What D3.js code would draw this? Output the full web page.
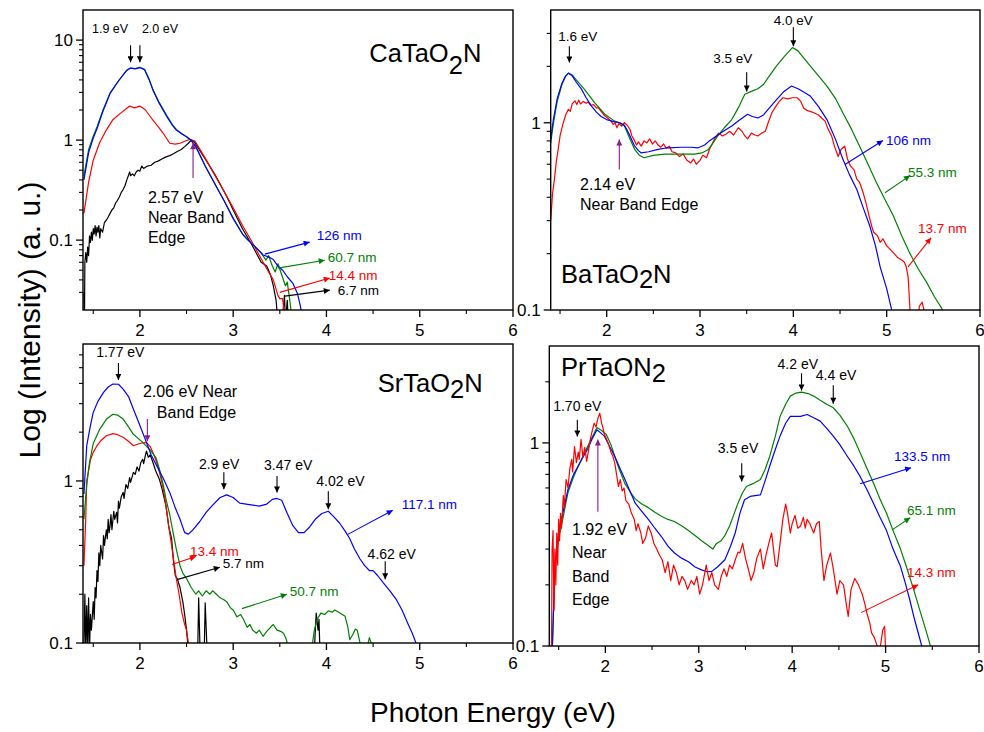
<!DOCTYPE html>
<html>
<head>
<meta charset="utf-8">
<script src="https://cdn.jsdelivr.net/npm/d3@7"></script>
<style>
body { margin: 0; background: #fff; }
text { font-family: "Liberation Sans", Arial, sans-serif; }
</style>
</head>
<body>
<script>
// ------------------------------------------------ Data ------------------------------------------------ //
// each series: [photon energy (eV), intensity (a.u.)]
var caBlue = [[1.4,0.40],[1.45,0.75],[1.5,1.05],[1.54,1.3],[1.6,1.9],[1.68,2.93],[1.77,3.9],[1.86,5.0],[1.9,5.25],[1.95,5.15],[2.0,5.3],[2.05,5.05],[2.1,4.0],[2.14,3.16],[2.2,2.4],[2.29,1.71],[2.35,1.4],[2.39,1.26],[2.45,1.15],[2.5,1.08],[2.55,0.99],[2.6,0.86],[2.7,0.55],[2.8,0.37],[2.9,0.25],[3.0,0.165],[3.1,0.115],[3.16,0.1],[3.24,0.085],[3.32,0.071],[3.38,0.068],[3.43,0.064],[3.48,0.055],[3.53,0.05],[3.58,0.043],[3.64,0.037],[3.69,0.029],[3.72,0.022],[3.74,0.017],[3.77,0.015],[3.8,0.019],[3.82,0.015]];
var caGreen = [[1.4,0.44],[1.45,0.8],[1.5,1.1],[1.54,1.35],[1.6,1.95],[1.68,2.95],[1.77,3.9],[1.86,5.0],[1.9,5.25],[1.95,5.2],[2.0,5.35],[2.05,5.1],[2.1,4.05],[2.14,3.2],[2.2,2.45],[2.29,1.75],[2.35,1.42],[2.39,1.28],[2.45,1.16],[2.5,1.08],[2.55,0.99],[2.6,0.86],[2.7,0.55],[2.8,0.37],[2.9,0.25],[3.0,0.165],[3.1,0.115],[3.16,0.1],[3.24,0.085],[3.3,0.075],[3.35,0.063],[3.38,0.07],[3.42,0.055],[3.45,0.048],[3.48,0.058],[3.52,0.045],[3.56,0.035],[3.58,0.038],[3.6,0.028],[3.62,0.02],[3.63,0.015]];
var caRed = [[1.4,0.185],[1.45,0.38],[1.5,0.63],[1.57,0.95],[1.64,1.26],[1.71,1.6],[1.79,1.85],[1.85,2.05],[1.89,2.19],[1.94,2.1],[2.0,2.19],[2.06,2.0],[2.14,1.58],[2.2,1.35],[2.25,1.17],[2.32,0.93],[2.38,0.91],[2.43,0.93],[2.5,0.99],[2.54,1.02],[2.59,0.98],[2.7,0.66],[2.8,0.45],[2.9,0.31],[3.0,0.21],[3.1,0.14],[3.21,0.093],[3.3,0.065],[3.38,0.048],[3.43,0.04],[3.48,0.028],[3.5,0.026],[3.53,0.026],[3.55,0.018],[3.57,0.014]];
var caBlack = [[1.4,0.03],[1.405,0.012],[1.41,0.06],[1.42,0.075],[1.43,0.06],[1.44,0.085],[1.45,0.07],[1.46,0.11],[1.47,0.095],[1.48,0.12],[1.49,0.1],[1.5,0.13],[1.51,0.115],[1.52,0.14],[1.53,0.11],[1.54,0.135],[1.55,0.12],[1.56,0.14],[1.57,0.105],[1.58,0.13],[1.6,0.12],[1.62,0.15],[1.64,0.158],[1.66,0.17],[1.68,0.185],[1.7,0.2],[1.72,0.21],[1.74,0.235],[1.76,0.25],[1.78,0.27],[1.8,0.3],[1.82,0.32],[1.84,0.35],[1.86,0.4],[1.88,0.45],[1.89,0.48],[1.9,0.44],[1.92,0.46],[1.94,0.44],[1.96,0.48],[1.98,0.5],[2.0,0.49],[2.02,0.55],[2.04,0.52],[2.08,0.55],[2.12,0.56],[2.16,0.6],[2.2,0.62],[2.24,0.65],[2.28,0.68],[2.32,0.7],[2.36,0.73],[2.4,0.77],[2.44,0.8],[2.48,0.86],[2.52,0.93],[2.55,1.0],[2.58,0.97],[2.7,0.65],[2.8,0.46],[2.9,0.31],[2.96,0.24],[3.0,0.2],[3.1,0.13],[3.2,0.09],[3.3,0.06],[3.36,0.055],[3.4,0.045],[3.43,0.035],[3.46,0.025],[3.48,0.015],[3.5,0.01],[3.54,0.022],[3.55,0.028],[3.56,0.015],[3.58,0.025],[3.6,0.01]];

var baBlue = [[1.4,0.82],[1.43,1.05],[1.47,1.35],[1.52,1.62],[1.56,1.78],[1.59,1.84],[1.63,1.78],[1.68,1.63],[1.73,1.51],[1.78,1.36],[1.835,1.23],[1.89,1.14],[1.94,1.08],[2.0,1.04],[2.086,1.01],[2.14,1.0],[2.19,0.97],[2.24,0.87],[2.3,0.75],[2.34,0.71],[2.37,0.69],[2.45,0.7],[2.55,0.72],[2.65,0.735],[2.8,0.74],[2.9,0.74],[2.98,0.735],[3.05,0.76],[3.1,0.8],[3.16,0.84],[3.25,0.9],[3.34,0.96],[3.42,1.03],[3.51,1.11],[3.56,1.08],[3.62,1.06],[3.68,1.1],[3.73,1.18],[3.82,1.33],[3.9,1.47],[3.98,1.57],[4.05,1.52],[4.12,1.45],[4.18,1.39],[4.27,1.22],[4.36,1.04],[4.45,0.82],[4.53,0.64],[4.6,0.53],[4.68,0.44],[4.75,0.35],[4.82,0.28],[4.88,0.22],[4.93,0.17],[5.0,0.13],[5.05,0.102],[5.07,0.09]];
var baGreen = [[1.4,0.78],[1.43,1.0],[1.47,1.3],[1.52,1.6],[1.56,1.77],[1.59,1.84],[1.63,1.8],[1.68,1.68],[1.76,1.51],[1.87,1.28],[1.98,1.11],[2.086,1.02],[2.14,1.0],[2.19,0.96],[2.24,0.84],[2.3,0.72],[2.35,0.67],[2.4,0.65],[2.5,0.67],[2.62,0.68],[2.8,0.68],[2.94,0.68],[3.02,0.69],[3.09,0.72],[3.14,0.78],[3.19,0.85],[3.26,0.94],[3.34,1.04],[3.41,1.2],[3.48,1.42],[3.55,1.47],[3.62,1.52],[3.68,1.6],[3.73,1.74],[3.82,2.01],[3.9,2.25],[3.99,2.52],[4.05,2.42],[4.18,2.01],[4.27,1.78],[4.36,1.57],[4.45,1.35],[4.53,1.13],[4.62,0.93],[4.71,0.75],[4.8,0.6],[4.89,0.48],[4.98,0.39],[5.07,0.32],[5.16,0.25],[5.25,0.2],[5.34,0.165],[5.43,0.14],[5.51,0.118],[5.59,0.102],[5.62,0.095]];
var baRed = [[1.4,0.3],[1.42,0.42],[1.44,0.5],[1.46,0.62],[1.48,0.72],[1.5,0.85],[1.53,0.98],[1.56,1.1],[1.59,1.18],[1.61,1.15],[1.63,1.26],[1.66,1.31],[1.68,1.25],[1.7,1.32],[1.72,1.26],[1.75,1.3],[1.78,1.27],[1.8,1.29],[1.83,1.24],[1.86,1.25],[1.89,1.2],[1.91,1.2],[1.94,1.15],[1.97,1.1],[2.01,1.06],[2.04,1.03],[2.07,0.98],[2.09,1.0],[2.11,0.94],[2.13,0.99],[2.16,0.96],[2.19,1.0],[2.22,0.97],[2.25,0.92],[2.27,0.85],[2.3,0.8],[2.32,0.76],[2.34,0.79],[2.37,0.75],[2.4,0.8],[2.43,0.78],[2.46,0.82],[2.49,0.77],[2.52,0.8],[2.55,0.76],[2.58,0.74],[2.61,0.77],[2.64,0.73],[2.67,0.75],[2.7,0.7],[2.74,0.69],[2.78,0.66],[2.82,0.68],[2.86,0.63],[2.9,0.61],[2.93,0.64],[2.96,0.6],[3.0,0.63],[3.03,0.67],[3.07,0.65],[3.1,0.72],[3.13,0.77],[3.16,0.83],[3.2,0.88],[3.24,0.85],[3.28,0.87],[3.32,0.9],[3.36,0.86],[3.41,0.94],[3.45,0.9],[3.48,0.85],[3.51,0.82],[3.55,0.88],[3.59,0.86],[3.62,0.85],[3.66,0.88],[3.7,0.9],[3.73,1.0],[3.77,1.13],[3.81,1.22],[3.85,1.3],[3.89,1.36],[3.94,1.34],[3.99,1.36],[4.04,1.36],[4.08,1.3],[4.11,1.2],[4.15,1.16],[4.18,1.15],[4.22,1.13],[4.27,1.1],[4.31,1.05],[4.34,1.02],[4.37,0.93],[4.41,0.85],[4.44,0.75],[4.48,0.66],[4.51,0.72],[4.55,0.75],[4.58,0.64],[4.61,0.59],[4.65,0.56],[4.68,0.5],[4.71,0.48],[4.75,0.42],[4.78,0.37],[4.81,0.32],[4.84,0.28],[4.86,0.26],[4.9,0.25],[4.93,0.23],[4.96,0.24],[5.0,0.22],[5.04,0.21],[5.08,0.2],[5.12,0.19],[5.16,0.185],[5.19,0.18],[5.21,0.17],[5.23,0.15],[5.25,0.1],[5.27,0.08],[5.33,0.08],[5.35,0.105],[5.38,0.11],[5.4,0.1],[5.42,0.08]];

var srBlue = [[1.4,0.83],[1.43,1.65],[1.47,2.2],[1.5,2.65],[1.55,3.1],[1.61,3.52],[1.66,3.8],[1.71,3.96],[1.77,3.95],[1.82,3.69],[1.88,3.3],[1.93,2.78],[2.0,2.2],[2.07,1.73],[2.12,1.45],[2.18,1.24],[2.25,1.04],[2.32,0.85],[2.38,0.68],[2.43,0.58],[2.48,0.48],[2.52,0.47],[2.57,0.5],[2.64,0.56],[2.71,0.64],[2.78,0.71],[2.86,0.79],[2.93,0.82],[3.0,0.79],[3.07,0.73],[3.14,0.72],[3.21,0.71],[3.28,0.7],[3.36,0.72],[3.42,0.77],[3.47,0.78],[3.52,0.76],[3.58,0.63],[3.64,0.53],[3.7,0.48],[3.76,0.48],[3.82,0.52],[3.88,0.58],[3.95,0.63],[4.02,0.65],[4.08,0.6],[4.14,0.55],[4.2,0.49],[4.25,0.44],[4.3,0.38],[4.36,0.33],[4.41,0.3],[4.46,0.28],[4.5,0.28],[4.55,0.26],[4.61,0.235],[4.68,0.21],[4.75,0.185],[4.81,0.16],[4.87,0.133],[4.92,0.115],[4.96,0.1],[4.99,0.095]];
var srGreen = [[1.4,0.58],[1.43,0.95],[1.46,1.3],[1.5,1.7],[1.57,2.09],[1.64,2.4],[1.71,2.58],[1.76,2.55],[1.82,2.41],[1.88,2.15],[1.93,1.94],[2.03,1.73],[2.12,1.53],[2.17,1.4],[2.21,1.18],[2.25,0.95],[2.28,0.77],[2.32,0.62],[2.35,0.5],[2.39,0.38],[2.43,0.3],[2.46,0.27],[2.5,0.25],[2.55,0.22],[2.6,0.2],[2.63,0.21],[2.67,0.195],[2.71,0.21],[2.75,0.2],[2.78,0.21],[2.82,0.2],[2.86,0.19],[2.9,0.185],[2.93,0.18],[2.97,0.165],[3.0,0.16],[3.04,0.145],[3.08,0.15],[3.11,0.14],[3.15,0.125],[3.18,0.13],[3.21,0.12],[3.25,0.115],[3.28,0.12],[3.32,0.11],[3.36,0.118],[3.4,0.125],[3.43,0.13],[3.47,0.12],[3.51,0.118],[3.54,0.115],[3.57,0.105],[3.6,0.09],[3.84,0.09],[3.87,0.12],[3.9,0.14],[3.94,0.153],[3.98,0.15],[4.02,0.158],[4.06,0.155],[4.09,0.16],[4.13,0.155],[4.17,0.15],[4.2,0.146],[4.23,0.125],[4.25,0.105],[4.28,0.112],[4.31,0.122],[4.33,0.12],[4.36,0.1],[4.38,0.09],[4.43,0.09],[4.46,0.108],[4.48,0.1],[4.5,0.09]];
var srRed = [[1.4,0.3],[1.42,0.6],[1.43,1.0],[1.47,1.35],[1.5,1.5],[1.54,1.65],[1.58,1.77],[1.64,1.9],[1.71,1.96],[1.76,1.93],[1.82,1.86],[1.88,1.75],[1.93,1.65],[1.98,1.69],[2.03,1.72],[2.07,1.73],[2.11,1.63],[2.14,1.5],[2.18,1.3],[2.21,1.13],[2.25,0.9],[2.28,0.7],[2.31,0.52],[2.34,0.4],[2.37,0.3],[2.39,0.25],[2.42,0.2],[2.45,0.154],[2.48,0.13],[2.5,0.12],[2.52,0.1],[2.54,0.09]];
var srBlack = [[1.4,0.09],[1.41,0.2],[1.42,0.09],[1.43,0.17],[1.44,0.09],[1.45,0.19],[1.46,0.09],[1.47,0.15],[1.48,0.12],[1.5,0.18],[1.51,0.14],[1.52,0.22],[1.53,0.19],[1.54,0.28],[1.55,0.24],[1.56,0.36],[1.57,0.3],[1.58,0.4],[1.6,0.33],[1.61,0.46],[1.62,0.4],[1.64,0.5],[1.65,0.44],[1.66,0.58],[1.67,0.48],[1.68,0.53],[1.69,0.62],[1.7,0.5],[1.72,0.65],[1.73,0.58],[1.75,0.64],[1.76,0.55],[1.77,0.75],[1.78,0.68],[1.8,0.8],[1.82,0.85],[1.83,0.78],[1.85,0.95],[1.87,0.9],[1.89,1.05],[1.9,0.98],[1.93,1.13],[1.95,1.1],[1.97,1.22],[1.99,1.15],[2.01,1.3],[2.03,1.36],[2.04,1.28],[2.06,1.45],[2.07,1.53],[2.09,1.4],[2.11,1.45],[2.14,1.3],[2.17,1.15],[2.21,1.02],[2.24,0.88],[2.28,0.7],[2.31,0.52],[2.34,0.44],[2.36,0.32],[2.38,0.26],[2.4,0.25],[2.43,0.22],[2.46,0.18],[2.48,0.15],[2.5,0.12],[2.52,0.09],[2.62,0.09],[2.63,0.19],[2.645,0.09],[2.69,0.09],[2.7,0.177],[2.72,0.09],[3.87,0.09],[3.89,0.153],[3.91,0.12],[3.92,0.14],[3.93,0.09]];

var prBlue = [[1.43,0.09],[1.46,0.25],[1.5,0.36],[1.53,0.42],[1.6,0.59],[1.66,0.7],[1.71,0.77],[1.76,0.85],[1.81,0.93],[1.86,1.05],[1.91,1.16],[1.95,1.12],[1.99,1.08],[2.04,0.97],[2.1,0.86],[2.15,0.76],[2.21,0.66],[2.27,0.57],[2.32,0.505],[2.39,0.46],[2.46,0.42],[2.53,0.38],[2.6,0.346],[2.67,0.31],[2.74,0.287],[2.82,0.27],[2.89,0.26],[2.96,0.245],[3.03,0.237],[3.09,0.232],[3.14,0.233],[3.2,0.245],[3.28,0.266],[3.34,0.31],[3.39,0.36],[3.44,0.45],[3.49,0.525],[3.55,0.545],[3.6,0.55],[3.66,0.555],[3.71,0.65],[3.76,0.77],[3.82,0.93],[3.87,1.08],[3.93,1.25],[3.98,1.35],[4.04,1.35],[4.09,1.35],[4.16,1.38],[4.23,1.33],[4.3,1.28],[4.37,1.18],[4.44,1.08],[4.51,0.98],[4.59,0.86],[4.66,0.77],[4.73,0.68],[4.8,0.59],[4.87,0.505],[4.94,0.43],[5.01,0.37],[5.08,0.3],[5.16,0.246],[5.21,0.205],[5.26,0.168],[5.31,0.135],[5.37,0.107],[5.4,0.095]];
var prGreen = [[1.43,0.09],[1.46,0.24],[1.5,0.34],[1.53,0.39],[1.6,0.57],[1.66,0.68],[1.71,0.77],[1.76,0.86],[1.81,0.96],[1.86,1.07],[1.91,1.19],[1.96,1.15],[2.01,1.1],[2.06,0.98],[2.1,0.86],[2.15,0.74],[2.21,0.63],[2.27,0.57],[2.32,0.53],[2.39,0.5],[2.46,0.48],[2.53,0.455],[2.6,0.435],[2.67,0.42],[2.74,0.41],[2.82,0.39],[2.89,0.37],[2.96,0.35],[3.03,0.33],[3.09,0.315],[3.15,0.3],[3.19,0.32],[3.24,0.33],[3.28,0.35],[3.33,0.39],[3.38,0.45],[3.42,0.505],[3.47,0.57],[3.51,0.61],[3.58,0.63],[3.66,0.66],[3.71,0.74],[3.76,0.86],[3.82,1.08],[3.87,1.35],[3.93,1.55],[3.98,1.7],[4.04,1.76],[4.1,1.78],[4.17,1.75],[4.23,1.7],[4.3,1.62],[4.37,1.55],[4.44,1.49],[4.51,1.37],[4.59,1.21],[4.66,1.05],[4.73,0.89],[4.8,0.75],[4.87,0.635],[4.94,0.53],[5.01,0.45],[5.08,0.37],[5.16,0.3],[5.23,0.24],[5.3,0.19],[5.37,0.148],[5.44,0.116],[5.48,0.1],[5.5,0.09]];
var prRed = [[1.42,0.05],[1.43,0.3],[1.44,0.37],[1.45,0.15],[1.46,0.3],[1.47,0.2],[1.48,0.36],[1.49,0.25],[1.5,0.42],[1.51,0.33],[1.52,0.45],[1.53,0.38],[1.55,0.55],[1.56,0.48],[1.58,0.66],[1.6,0.6],[1.62,0.75],[1.64,0.83],[1.65,0.72],[1.67,0.96],[1.69,0.8],[1.71,0.9],[1.72,0.83],[1.74,1.04],[1.76,0.85],[1.78,0.95],[1.8,0.81],[1.82,0.92],[1.84,1.05],[1.86,1.15],[1.88,1.25],[1.9,1.2],[1.92,1.32],[1.94,1.4],[1.96,1.25],[1.97,1.21],[1.99,1.1],[2.01,1.05],[2.03,1.0],[2.06,0.9],[2.08,0.86],[2.1,0.8],[2.12,0.7],[2.14,0.61],[2.16,0.66],[2.18,0.58],[2.2,0.6],[2.22,0.52],[2.25,0.5],[2.28,0.45],[2.31,0.42],[2.33,0.37],[2.35,0.4],[2.38,0.36],[2.4,0.32],[2.43,0.34],[2.46,0.39],[2.49,0.36],[2.52,0.32],[2.55,0.3],[2.58,0.28],[2.61,0.265],[2.64,0.23],[2.67,0.26],[2.7,0.21],[2.73,0.25],[2.76,0.23],[2.79,0.2],[2.82,0.22],[2.85,0.21],[2.88,0.19],[2.92,0.21],[2.95,0.2],[2.98,0.22],[3.01,0.18],[3.04,0.2],[3.08,0.25],[3.11,0.21],[3.14,0.23],[3.17,0.2],[3.21,0.19],[3.24,0.22],[3.27,0.24],[3.3,0.22],[3.33,0.25],[3.36,0.24],[3.39,0.265],[3.42,0.29],[3.44,0.287],[3.47,0.32],[3.5,0.27],[3.53,0.24],[3.56,0.21],[3.59,0.23],[3.62,0.27],[3.66,0.3],[3.69,0.24],[3.72,0.28],[3.75,0.32],[3.78,0.36],[3.8,0.3],[3.82,0.25],[3.84,0.246],[3.87,0.32],[3.9,0.42],[3.93,0.5],[3.95,0.45],[3.98,0.36],[4.0,0.4],[4.03,0.44],[4.06,0.38],[4.09,0.39],[4.12,0.43],[4.14,0.38],[4.16,0.42],[4.19,0.4],[4.23,0.36],[4.26,0.4],[4.29,0.41],[4.31,0.3],[4.34,0.21],[4.37,0.25],[4.41,0.287],[4.44,0.24],[4.48,0.18],[4.51,0.21],[4.55,0.2],[4.58,0.16],[4.6,0.14],[4.63,0.19],[4.67,0.215],[4.71,0.2],[4.75,0.18],[4.78,0.16],[4.8,0.145],[4.83,0.13],[4.85,0.116],[4.88,0.11],[4.91,0.1],[4.93,0.09],[4.97,0.12],[4.99,0.125],[5.0,0.095],[5.02,0.08]];

// axis ticks
var xTicks = [2, 3, 4, 5, 6];
var xMinor = [1.5, 2.5, 3.5, 4.5, 5.5];

// peak markers: label, label E, label I, arrow E, arrow top I, arrow bottom I
var caPeaks = [["1.9 eV",1.68,11.7,1.9,8.9,6.0],["2.0 eV",2.215,11.7,2.0,8.9,6.0]];
var baPeaks = [["1.6 eV",1.69,2.73,1.6,2.56,2.1],["4.0 eV",4.0,3.32,4.0,3.24,2.56],["3.5 eV",3.35,2.08,3.5,1.86,1.47]];
var srPeaks = [["1.77 eV",1.79,5.82,1.77,5.35,4.2],["2.9 eV",2.85,1.18,2.9,1.13,0.889],["3.47 eV",3.59,1.165,3.47,1.074,0.848],["4.02 eV",4.15,0.927,4.02,0.864,0.668],["4.62 eV",4.7,0.328,4.63,0.319,0.247]];
var prPeaks = [["1.70 eV",1.70,1.43,1.70,1.30,1.074],["4.2 eV",4.06,2.30,4.10,2.2,1.81],["4.4 eV",4.47,2.05,4.44,1.92,1.56],["3.5 eV",3.42,0.896,3.46,0.794,0.645]];

// film thickness labels: label, colour, arrow start [E,I], arrow end [E,I], label [E,I]
var caSizes = [["126 nm","#0000ff",[3.339,0.0724],[3.82,0.0955],[3.897,0.1]],["60.7 nm","#008000",[3.479,0.0525],[3.982,0.063],[4.014,0.06]],["14.4 nm","#ff0000",[3.5,0.030],[4.036,0.0417],[4.025,0.04]],["6.7 nm","#000000",[3.554,0.0275],[4.036,0.0316],[4.12,0.028]]];
var baSizes = [["106 nm","#0000ff",[4.553,0.598],[4.96,0.803],[4.993,0.765]],["55.3 nm","#008000",[4.982,0.423],[5.25,0.522],[5.229,0.515]],["13.7 nm","#ff0000",[5.229,0.17],[5.475,0.243],[5.336,0.258]]];
var srSizes = [["117.1 nm","#0000ff",[4.229,0.468],[4.711,0.659],[4.807,0.668]],["13.4 nm","#ff0000",[2.343,0.305],[2.6,0.342],[2.536,0.342]],["5.7 nm","#000000",[2.407,0.247],[2.857,0.293],[2.889,0.289]],["50.7 nm","#008000",[3.093,0.163],[3.575,0.2],[3.607,0.194]]];
var prSizes = [["133.5 nm","#0000ff",[4.727,0.63],[5.273,0.755],[5.09,0.818]],["65.1 nm","#008000",[5.07,0.373],[5.263,0.428],[5.23,0.443]],["14.3 nm","#ff0000",[4.738,0.146],[5.349,0.2],[5.23,0.219]]];

// near band edge notes: text lines, line E, line I values, arrow E, arrow from I, arrow to I
var caEdge = [["2.57 eV","Near Band","Edge"],2.086,[0.234,0.148,0.093],2.57,0.417,0.93];
var baEdge = [["2.14 eV","Near Band Edge"],1.714,[0.44,0.343],2.135,0.562,0.814];
var srEdge = [["2.06 eV Near","Band Edge"],[2.032,2.182],[3.29,2.44],2.08,2.41,1.76];
var prEdge = [["1.92 eV","Near","Band","Edge"],1.643,[0.353,0.272,0.207,0.159],1.92,0.458,1.04];

// ------------------------------------------------ Setup ----------------------------------------------- //
var W = 984, H = 732;
var svg = d3.select("body").append("svg").attr("width", W).attr("height", H);
var defs = svg.append("defs");
var blue = "#0000ff", green = "#008000", red = "#ff0000", purple = "#8b1a8b";

function add_marker(id, color, w, l) {
    defs.append("marker").attr("id", id)
        .attr("viewBox", "0 0 10 10").attr("refX", 10).attr("refY", 5)
        .attr("markerWidth", l).attr("markerHeight", w)
        .attr("markerUnits", "userSpaceOnUse").attr("orient", "auto")
        .append("path").attr("d", "M0,0L10,5L0,10z").attr("fill", color);
}
add_marker("m-0000ff", blue, 6, 9);
add_marker("m-008000", green, 6, 9);
add_marker("m-ff0000", red, 6, 9);
add_marker("m-000000", "#000", 6, 9);
add_marker("m-peak", "#000", 6, 9);
add_marker("m-purple", purple, 6, 9);

var panels = [
    {id: "ca", box: [83, 513, 10, 310], xdom: [1.39, 6], ydom: [0.02, 20], yticks: [0.1, 1, 10],
     series: [[caBlack, "#000"], [caRed, red], [caGreen, green], [caBlue, blue]],
     peaks: caPeaks, sizes: caSizes, edge: caEdge, peakFont: 12.5,
     title: ["CaTaO", "2", "N"], tpos: [4.46, 6.0], sub: 12},
    {id: "ba", box: [550.7, 980, 10, 310], xdom: [1.4, 6], ydom: [0.1, 4], yticks: [0.1, 1],
     series: [[baRed, red], [baGreen, green], [baBlue, blue]],
     peaks: baPeaks, sizes: baSizes, edge: baEdge, peakFont: 13.5,
     title: ["BaTaO", "2", "N"], tpos: [1.51, 0.14], sub: 5},
    {id: "sr", box: [83, 513, 344, 643], xdom: [1.39, 6], ydom: [0.1, 7], yticks: [0.1, 1],
     series: [[srBlack, "#000"], [srRed, red], [srGreen, green], [srBlue, blue]],
     peaks: srPeaks, sizes: srSizes, edge: srEdge, peakFont: 14,
     title: ["SrTaO", "2", "N"], tpos: [4.55, 3.54], sub: 6},
    {id: "pr", box: [549.3, 979, 346, 646], xdom: [1.4, 6], ydom: [0.1, 3], yticks: [0.1, 1],
     series: [[prGreen, green], [prBlue, blue], [prRed, red]],
     peaks: prPeaks, sizes: prSizes, edge: prEdge, peakFont: 14,
     title: ["PrTaON", "2", ""], tpos: [1.525, 2.13], sub: 6}
];

// ------------------------------------------------ Draw ------------------------------------------------ //
function draw_panel(p) {
    var x = d3.scaleLinear().domain(p.xdom).range([p.box[0], p.box[1]]);
    var y = d3.scaleLog().domain(p.ydom).range([p.box[3], p.box[2]]);
    var g = svg.append("g").attr("class", "panel-" + p.id);

    defs.append("clipPath").attr("id", "clip-" + p.id)
        .append("rect")
        .attr("x", p.box[0]).attr("y", p.box[2])
        .attr("width", p.box[1] - p.box[0]).attr("height", p.box[3] - p.box[2]);

    // curves
    var line = d3.line()
        .x(function(d) { return x(d[0]); })
        .y(function(d) { return y(Math.max(d[1], 0.001)); });
    var curves = g.append("g").attr("clip-path", "url(#clip-" + p.id + ")");
    p.series.forEach(function(s) {
        curves.append("path").datum(s[0])
            .attr("d", line)
            .attr("fill", "none")
            .attr("stroke", s[1])
            .attr("stroke-width", 1.2)
            .attr("stroke-linejoin", "round");
    });

    // frame
    g.append("rect")
        .attr("x", p.box[0]).attr("y", p.box[2])
        .attr("width", p.box[1] - p.box[0]).attr("height", p.box[3] - p.box[2])
        .attr("fill", "none").attr("stroke", "#000").attr("stroke-width", 1.4);

    // x ticks
    var bot = p.box[3];
    g.selectAll(".xmaj").data(xTicks).enter().append("line")
        .attr("x1", x).attr("x2", x).attr("y1", bot).attr("y2", bot + 7)
        .attr("stroke", "#000").attr("stroke-width", 1.3);
    g.selectAll(".xmin").data(xMinor).enter().append("line")
        .attr("x1", x).attr("x2", x).attr("y1", bot).attr("y2", bot + 4)
        .attr("stroke", "#000").attr("stroke-width", 1.1);
    g.selectAll(".xlab").data(xTicks).enter().append("text")
        .attr("x", x).attr("y", bot + 26)
        .attr("text-anchor", "middle").attr("font-size", 17)
        .text(function(d) { return d; });

    // y ticks (log, with minor ticks)
    var left = p.box[0];
    var minor = [];
    var lo = Math.floor(Math.log10(p.ydom[0])), hi = Math.ceil(Math.log10(p.ydom[1]));
    for (var e = lo; e < hi; ++e) {
        for (var k = 2; k <= 9; ++k) {
            var v = k * Math.pow(10, e);
            if (v > p.ydom[0] && v < p.ydom[1]) minor.push(v);
        }
    }
    g.selectAll(".ymaj").data(p.yticks).enter().append("line")
        .attr("x1", left - 7).attr("x2", left).attr("y1", y).attr("y2", y)
        .attr("stroke", "#000").attr("stroke-width", 1.3);
    g.selectAll(".ymin").data(minor).enter().append("line")
        .attr("x1", left - 4).attr("x2", left).attr("y1", y).attr("y2", y)
        .attr("stroke", "#000").attr("stroke-width", 1.1);
    g.selectAll(".ylab").data(p.yticks).enter().append("text")
        .attr("x", left - 10).attr("y", function(d) { return y(d) + 6; })
        .attr("text-anchor", "end").attr("font-size", 17)
        .text(function(d) { return d; });

    // compound name
    var t = g.append("text")
        .attr("x", x(p.tpos[0])).attr("y", y(p.tpos[1]))
        .attr("font-size", 25.5);
    t.append("tspan").text(p.title[0]);
    t.append("tspan").attr("dy", p.sub).text(p.title[1]);
    t.append("tspan").attr("dy", -p.sub).text(p.title[2]);

    // peak markers
    p.peaks.forEach(function(k) {
        g.append("text")
            .attr("x", x(k[1])).attr("y", y(k[2]))
            .attr("text-anchor", "middle").attr("font-size", p.peakFont)
            .text(k[0]);
        g.append("line")
            .attr("x1", x(k[3])).attr("x2", x(k[3]))
            .attr("y1", y(k[4])).attr("y2", y(k[5]))
            .attr("stroke", "#000").attr("stroke-width", 1.1)
            .attr("marker-end", "url(#m-peak)");
    });

    // thickness labels
    p.sizes.forEach(function(s) {
        g.append("line")
            .attr("x1", x(s[2][0])).attr("y1", y(s[2][1]))
            .attr("x2", x(s[3][0])).attr("y2", y(s[3][1]))
            .attr("stroke", s[1]).attr("stroke-width", 1.1)
            .attr("marker-end", "url(#m-" + s[1].slice(1) + ")");
        g.append("text")
            .attr("x", x(s[4][0])).attr("y", y(s[4][1]))
            .attr("fill", s[1]).attr("font-size", 13.5)
            .text(s[0]);
    });

    // near band edge note
    var ed = p.edge;
    ed[0].forEach(function(txt, i) {
        var ex = Array.isArray(ed[1]) ? ed[1][i] : ed[1];
        g.append("text")
            .attr("x", x(ex)).attr("y", y(ed[2][i]))
            .attr("font-size", 16)
            .text(txt);
    });
    g.append("line")
        .attr("x1", x(ed[3])).attr("x2", x(ed[3]))
        .attr("y1", y(ed[4])).attr("y2", y(ed[5]))
        .attr("stroke", purple).attr("stroke-width", 1.1)
        .attr("marker-end", "url(#m-purple)");
}

panels.forEach(draw_panel);

// shared axis titles
svg.append("text")
    .attr("transform", "translate(40,320) rotate(-90)")
    .attr("text-anchor", "middle").attr("font-size", 30)
    .text("Log (Intensity) (a. u.)");
svg.append("text")
    .attr("x", 493).attr("y", 722)
    .attr("text-anchor", "middle").attr("font-size", 28)
    .text("Photon Energy (eV)");
</script>
</body>
</html>
